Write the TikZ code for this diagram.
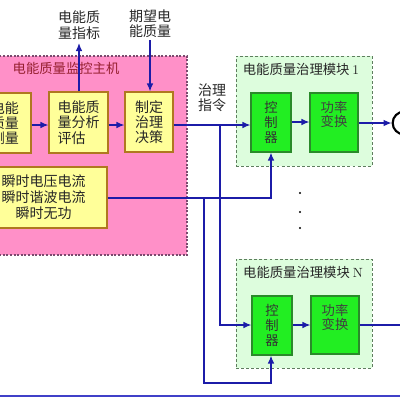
\documentclass[tikz,border=0pt]{standalone}
\usepackage{fontspec}
\newfontfamily\cjk{Noto Sans CJK SC}
\usetikzlibrary{arrows.meta,fit}
\definecolor{pinkfill}{HTML}{FF90C8}
\definecolor{pinkborder}{HTML}{7A4A6E}
\definecolor{yellowfill}{HTML}{FFFF99}
\definecolor{yellowborder}{HTML}{B07820}
\definecolor{modfill}{HTML}{DDFDDD}
\definecolor{modborder}{HTML}{5E7E5E}
\definecolor{ctrlfill}{HTML}{22EE22}
\definecolor{ctrlborder}{HTML}{2A8A2A}
\definecolor{wire}{HTML}{1C1CA8}
\definecolor{bottomwire}{HTML}{4040C8}
\definecolor{titlered}{HTML}{962030}
\tikzset{
  pinkframe/.style={draw=pinkborder, fill=pinkfill, dash pattern=on 1.5pt off 1.2pt, line width=0.9pt, inner sep=0pt},
  modframe/.style={draw=modborder, fill=modfill, dash pattern=on 2.2pt off 1.6pt, line width=0.7pt, inner sep=0pt},
  ybox/.style={draw=yellowborder, fill=yellowfill, line width=0.8pt, inner sep=0pt, font=\cjk\fontsize{10.5}{11.5}\selectfont, text=black!85},
  gbox/.style={draw=ctrlborder, fill=ctrlfill, line width=0.8pt, inner sep=0pt, font=\cjk\fontsize{10}{11}\selectfont, text=black!80},
  lbl/.style={font=\cjk\fontsize{10.5}{11.5}\selectfont, text=black!85, align=center, inner sep=0pt},
  wireline/.style={draw=wire, line width=1pt},
  arr/.style={wireline, -{Latex[length=6pt,width=5pt]}},
}
\begin{document}
\begin{tikzpicture}[x=0.75pt, y=-0.75pt]
\useasboundingbox (0,0) rectangle (400,400);
\clip (0,0) rectangle (400,400);

% monitoring host
\node[pinkframe, fit={(-8,56) (187,255)}] (host) {};
\node[font=\cjk\fontsize{10}{12}\selectfont, text=titlered, inner sep=0pt] (hosttitle) at (66,68) {电能质量监控主机};

\node[ybox, minimum width=39pt, minimum height=45pt, align=center] (b1) at (5,123) {电能\\质量\\测量};
\node[ybox, minimum width=44.25pt, minimum height=45.75pt, align=left] (b2) at (78.5,122.5) {电能质\\量分析\\评估};
\node[ybox, minimum width=36pt, minimum height=45pt, align=center] (b3) at (149,122) {制定\\治理\\决策};
\node[ybox, minimum width=95.25pt, minimum height=45.75pt, align=center, font=\cjk\fontsize{10.5}{12}\selectfont] (b4) at (43.5,197.5) {瞬时电压电流\\瞬时谐波电流\\瞬时无功};

% labels above
\node[lbl] (idx) at (79,25) {电能质\\量指标};
\node[lbl] (exp) at (150,24) {期望电\\能质量};
\coordinate (idxb) at (79,43);
\coordinate (expb) at (150,40);

% module 1
\node[modframe, fit={(236,56) (372,166)}] (m1) {};
\node[font=\cjk\fontsize{10}{12}\selectfont, text=black!85, inner sep=0pt] (m1t) at (301,69) {电能质量治理模块 {\normalfont 1}};
\node[gbox, minimum width=30pt, minimum height=44.25pt, align=center] (c1) at (271,122.5) {控\\制\\器};
\node[gbox, fit={(310,93) (358,152)}] (p1) {};
\node[lbl, font=\cjk\fontsize{10}{10.5}\selectfont, text=black!75, anchor=north] (p1t) at (334,101) {功率\\变换};

% module N
\node[modframe, fit={(236,259) (372,368)}] (mN) {};
\node[font=\cjk\fontsize{10}{12}\selectfont, text=black!85, inner sep=0pt] (mNt) at (303,272) {电能质量治理模块 {\normalfont N}};
\node[gbox, minimum width=30pt, minimum height=44.25pt, align=center] (cN) at (272,325.5) {控\\制\\器};
\node[gbox, fit={(311,296) (359,354)}] (pN) {};
\node[lbl, font=\cjk\fontsize{10}{10.5}\selectfont, text=black!75, anchor=north] (pNt) at (335,304) {功率\\变换};

% command label
\node[lbl] (cmd) at (212,98) {治理\\指令};

% output symbol
\node[draw=black, line width=1.6pt, circle, minimum size=17pt, inner sep=0pt] (out1) at (404,123) {};
\coordinate (outN) at (402,325);

% dots
\fill[black] (300,193) circle (0.9pt) coordinate (d1);
\fill[black] (300,212) circle (0.9pt) coordinate (d2);
\fill[black] (300,228) circle (0.9pt) coordinate (d3);

% connectors
\draw[arr] (b1.east |- 0,125) -- (b2.west |- 0,125);
\draw[arr] (b2.east |- 0,125) -- (b3.west |- 0,125);
\draw[arr] (b2.north -| 79,0) -- (idxb);
\draw[arr] (expb) -- (b3.north -| 150,0);
\draw[arr] (b3.east |- 0,125) -- (c1.west |- 0,125);
\coordinate (j1) at (220,125);
\draw[arr] (j1) -- (220,325) -- (cN.west |- 0,325);
\coordinate (j2) at (204,198);
\draw[arr] (b4.east |- 0,198) -- (271,198) -- (c1.south -| 271,0);
\draw[arr] (j2) -- (204,383) -- (271,383) -- (cN.south -| 271,0);
\draw[arr] (c1.east |- 0,122) -- (p1.west |- 0,122);
\draw[arr] (cN.east |- 0,325) -- (pN.west |- 0,325);
\draw[arr] (p1.east |- 0,123) -- (out1.west |- 0,123);
\draw[wireline] (pN.east |- 0,325) -- (outN);

% bottom line
\coordinate (bl) at (-2,396);
\coordinate (br) at (402,396);
\draw[draw=bottomwire, line width=1.6pt] (bl) -- (br);
\end{tikzpicture}
\end{document}
